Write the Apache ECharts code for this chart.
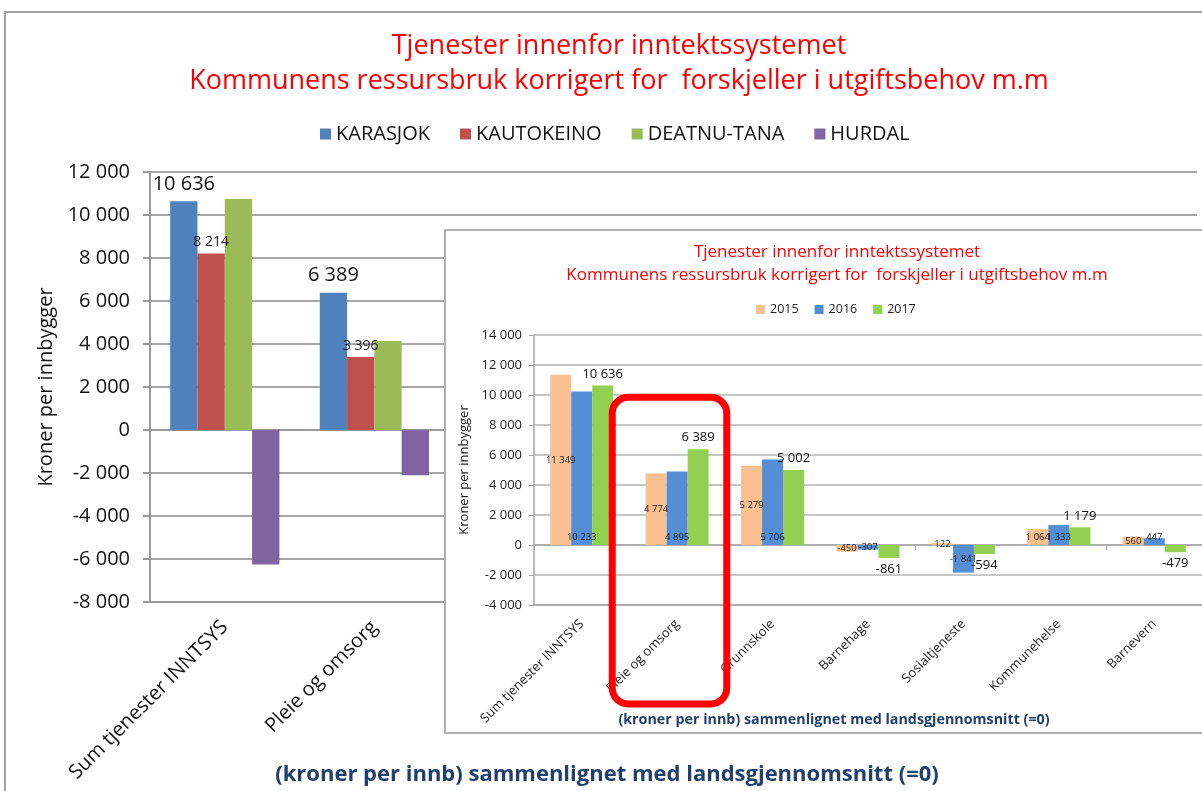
<!DOCTYPE html>
<html>
<head>
<meta charset="utf-8">
<script src="https://cdn.jsdelivr.net/npm/echarts@6/dist/echarts.min.js"></script>
<style>
  html, body { margin: 0; padding: 0; background: #fff; overflow: hidden; }
  #main { position: absolute; left: 0; top: 0; width: 1202px; height: 791px; }
  #inset { position: absolute; left: 444px; top: 229px; width: 758px; height: 505px; background: #fff;
           border-left: 2px solid #b0b0b0; border-top: 2px solid #b0b0b0; border-bottom: 2px solid #b0b0b0; box-sizing: border-box; }
</style>
</head>
<body>
<div id="main"></div>
<div id="inset"></div>
<script>
// ---------- DATA ----------
const categories = ['Sum tjenester INNTSYS', 'Pleie og omsorg', 'Grunnskole', 'Barnehage', 'Sosialtjeneste', 'Kommunehelse', 'Barnevern'];

// Main chart (only the first two categories are visible; the rest lie behind the inset)
const mainSeriesNames = ['KARASJOK', 'KAUTOKEINO', 'DEATNU-TANA', 'HURDAL'];
const karasjok   = [10636, 6389, null, null, null, null, null];
const kautokeino = [8214, 3396, null, null, null, null, null];
const deatnuTana = [10750, 4140, null, null, null, null, null];
const hurdal     = [-6250, -2100, null, null, null, null, null];
const mainYTicks = { min: -8000, max: 12000, interval: 2000 };

// Inset chart
const insetSeriesNames = ['2015', '2016', '2017'];
const y2015 = [11349, 4774, 5279, -450, 122, 1064, 560];
const y2016 = [10233, 4895, 5706, -307, -1841, 1333, 447];
const y2017 = [10636, 6389, 5002, -861, -594, 1179, -479];
const insetYTicks = { min: -4000, max: 14000, interval: 2000 };

const titleLines = ['Tjenester innenfor inntektssystemet', 'Kommunens ressursbruk korrigert for  forskjeller i utgiftsbehov m.m'];
const xAxisTitle = '(kroner per innb) sammenlignet med landsgjennomsnitt (=0)';
const yAxisTitle = 'Kroner per innbygger';

// ---------- HELPERS ----------
const FONT = '"Open Sans", "Liberation Sans", sans-serif';
function fmt(v) {
  const n = Math.round(Math.abs(v));
  const s = String(n).replace(/\B(?=(\d{3})+(?!\d))/g, ' ');
  return (v < 0 ? '-' : '') + s;
}

// ---------- MAIN CHART ----------
const mainColors = ['#4F81BD', '#C0504D', '#9BBB59', '#8064A2'];
const main = echarts.init(document.getElementById('main'), null, { renderer: 'canvas' });
const mainData = [karasjok, kautokeino, deatnuTana, hurdal];
const mainSeries = mainData.map((arr, i) => {
  const s = {
    name: mainSeriesNames[i], type: 'bar', xAxisIndex: 0, yAxisIndex: 0,
    data: arr, barGap: '0%', barCategoryGap: '27%',
    itemStyle: { color: mainColors[i] },
    label: { show: false }
  };
  if (i === 0) s.label = { show: true, position: 'top', distance: 7, fontFamily: FONT, fontSize: 20, color: '#111', formatter: p => fmt(p.value) };
  if (i === 1) s.label = { show: true, position: 'top', distance: 4, fontFamily: FONT, fontSize: 14, color: '#222', formatter: p => fmt(p.value) };
  return s;
});

main.setOption({
  animation: false,
  backgroundColor: '#fff',
  title: [
    { text: titleLines.join('\n'), left: 614, top: 24, textAlign: 'center',
      textStyle: { color: '#FF0000', fontFamily: FONT, fontSize: 27, fontWeight: 'normal', lineHeight: 35 } },
    { text: xAxisTitle, left: 602, top: 759, textAlign: 'center',
      textStyle: { color: '#1F3F6E', fontFamily: FONT, fontSize: 22, fontWeight: 'bold' } }
  ],
  legend: {
    data: mainSeriesNames, left: 315, top: 119,
    icon: 'rect', itemWidth: 11, itemHeight: 11, itemGap: 30,
    textStyle: { fontFamily: FONT, fontSize: 20, color: '#111' }
  },
  grid: { left: 150, right: 5, top: 172, bottom: 189, containLabel: false },
  xAxis: [
    { type: 'category', data: categories, position: 'bottom',
      axisLine: { onZero: false, show: true, lineStyle: { color: '#999', width: 2 } },
      axisTick: { show: false },
      axisLabel: { rotate: 45, margin: 22, interval: 0, fontFamily: FONT, fontSize: 20, color: '#111' } },
    { type: 'category', data: categories, position: 'bottom',
      axisLine: { onZero: true, show: true, lineStyle: { color: '#999', width: 2 } },
      axisTick: { show: true, length: 5, lineStyle: { color: '#999' } },
      axisLabel: { show: false } }
  ],
  yAxis: {
    type: 'value', min: mainYTicks.min, max: mainYTicks.max, interval: mainYTicks.interval,
    name: yAxisTitle, nameLocation: 'middle', nameGap: 93,
    nameTextStyle: { fontFamily: FONT, fontSize: 20, color: '#111' },
    axisLine: { show: true, lineStyle: { color: '#999', width: 2 } },
    axisTick: { show: true, length: 7, lineStyle: { color: '#999', width: 2 } },
    splitLine: { lineStyle: { color: '#a6a6a6', width: 2 } },
    axisLabel: { fontFamily: FONT, fontSize: 20, color: '#111', margin: 20, formatter: v => fmt(v) }
  },
  graphic: [
    { type: 'rect', shape: { x: 5, y: 12, width: 1300, height: 900 }, style: { fill: 'none', stroke: '#a0a0a0', lineWidth: 2 }, silent: true }
  ],
  series: mainSeries
});

// ---------- INSET CHART ----------
const insetColors = ['#FAC090', '#558ED5', '#92D050'];
const inset = echarts.init(document.getElementById('inset'), null, { renderer: 'canvas' });
const smallLbl = { fontFamily: FONT, fontSize: 9.5, color: '#222' };
const s2015 = {
  name: insetSeriesNames[0], type: 'bar', data: y2015, barGap: '0%', barCategoryGap: '34%',
  itemStyle: { color: insetColors[0] },
  label: Object.assign({ show: true, position: 'inside', formatter: p => fmt(p.value) }, smallLbl)
};
const s2016 = {
  name: insetSeriesNames[1], type: 'bar',
  data: y2016.map(v => ({ value: v, label: { position: v >= 0 ? 'insideBottom' : 'inside' } })),
  itemStyle: { color: insetColors[1] },
  label: Object.assign({ show: true, distance: 3, formatter: p => fmt(p.value) }, smallLbl)
};
const s2017 = {
  name: insetSeriesNames[2], type: 'bar',
  data: y2017.map(v => ({ value: v, label: { position: v >= 0 ? 'top' : 'bottom' } })),
  itemStyle: { color: insetColors[2] },
  label: { show: true, distance: 5, fontFamily: FONT, fontSize: 13, color: '#111', formatter: p => fmt(p.value) }
};

inset.setOption({
  animation: false,
  title: [
    { text: titleLines.join('\n'), left: 386, top: 5, textAlign: 'center',
      textStyle: { color: '#FF0000', fontFamily: FONT, fontSize: 17, fontWeight: 'normal', lineHeight: 23 } },
    { text: xAxisTitle, left: 383, top: 477, textAlign: 'center',
      textStyle: { color: '#1F3F6E', fontFamily: FONT, fontSize: 14.3, fontWeight: 'bold' } }
  ],
  legend: {
    data: insetSeriesNames, left: 305, top: 67,
    icon: 'rect', itemWidth: 9, itemHeight: 9, itemGap: 16,
    textStyle: { fontFamily: FONT, fontSize: 12.5, color: '#222' }
  },
  grid: { left: 88, right: 0, top: 104, bottom: 127, containLabel: false },
  xAxis: [
    { type: 'category', data: categories, position: 'bottom',
      axisLine: { onZero: false, show: true, lineStyle: { color: '#a6a6a6', width: 1.5 } },
      axisTick: { show: false },
      axisLabel: { rotate: 45, margin: 17, interval: 0, fontFamily: FONT, fontSize: 13, color: '#222' } },
    { type: 'category', data: categories, position: 'bottom',
      axisLine: { onZero: true, show: true, lineStyle: { color: '#a6a6a6', width: 1.5 } },
      axisTick: { show: true, length: 5, lineStyle: { color: '#a6a6a6' } },
      axisLabel: { show: false } }
  ],
  yAxis: {
    type: 'value', min: insetYTicks.min, max: insetYTicks.max, interval: insetYTicks.interval,
    name: yAxisTitle, nameLocation: 'middle', nameGap: 60,
    nameTextStyle: { fontFamily: FONT, fontSize: 13, color: '#222' },
    axisLine: { show: true, lineStyle: { color: '#a6a6a6', width: 1.5 } },
    axisTick: { show: true, length: 5, lineStyle: { color: '#a6a6a6' } },
    splitLine: { lineStyle: { color: '#b4b4b4', width: 1.5 } },
    axisLabel: { fontFamily: FONT, fontSize: 13, color: '#222', margin: 12, formatter: v => fmt(v) }
  },
  series: [s2015, s2016, s2017]
});

// Red highlight box around "Pleie og omsorg", positioned via the inset's own scales
(function () {
  const c0 = inset.convertToPixel({ xAxisIndex: 0 }, categories[0]);
  const c1 = inset.convertToPixel({ xAxisIndex: 0 }, categories[1]);
  const w = c1 - c0;
  const yTop = inset.convertToPixel({ yAxisIndex: 0 }, 9850);
  const yAxisBottom = inset.convertToPixel({ yAxisIndex: 0 }, insetYTicks.min);
  const x0 = c1 - w * 0.68, x1 = c1 + w * 0.52;
  inset.setOption({
    graphic: [{
      type: 'rect', z: 100, silent: true,
      shape: { x: x0, y: yTop, width: x1 - x0, height: (yAxisBottom + 99) - yTop, r: 16 },
      style: { fill: 'none', stroke: '#FF0000', lineWidth: 7 }
    }]
  });
})();
</script>
</body>
</html>
